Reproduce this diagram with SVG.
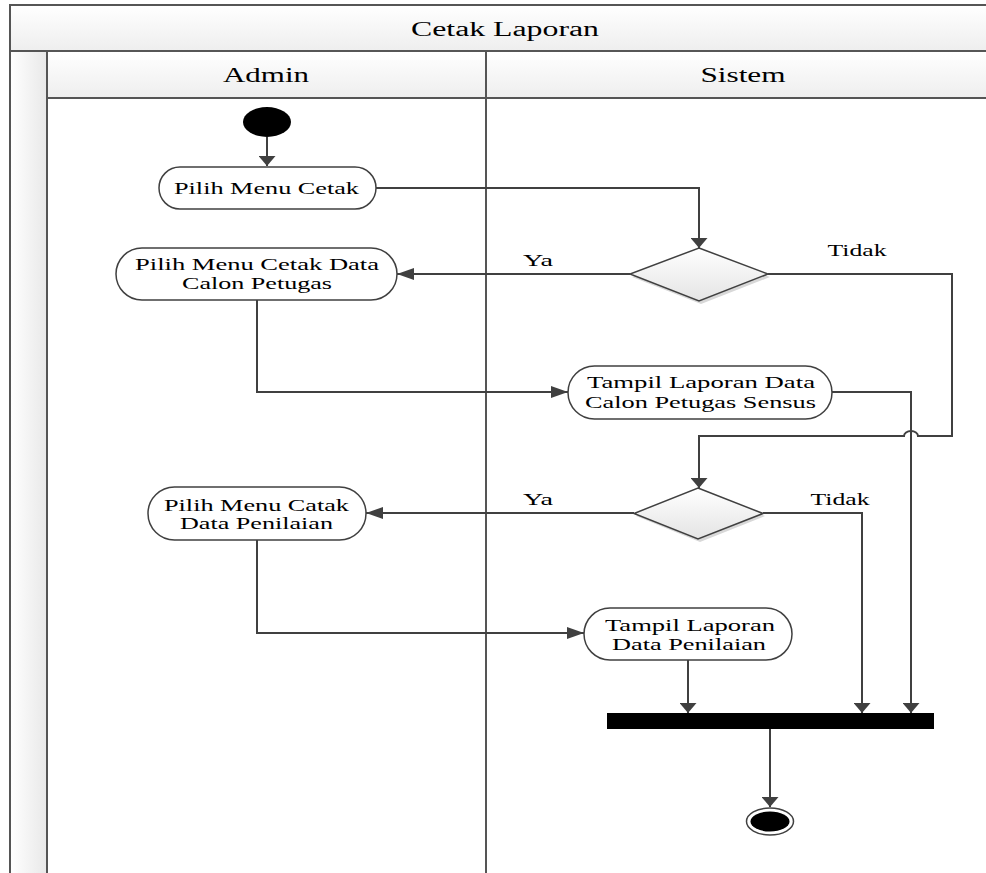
<svg xmlns="http://www.w3.org/2000/svg" width="986" height="873" viewBox="0 0 986 873">
  <defs>
    <linearGradient id="gradHead" x1="0" y1="0" x2="0" y2="1">
      <stop offset="0" stop-color="#ffffff"/>
      <stop offset="1" stop-color="#eeeeee"/>
    </linearGradient>
    <linearGradient id="gradStrip" x1="0" y1="0" x2="1" y2="0">
      <stop offset="0" stop-color="#ffffff"/>
      <stop offset="1" stop-color="#e8e8e8"/>
    </linearGradient>
    <linearGradient id="gradDiamond" x1="0" y1="0" x2="0" y2="1">
      <stop offset="0" stop-color="#ffffff"/>
      <stop offset="1" stop-color="#e4e4e4"/>
    </linearGradient>
    <marker id="arrowH" viewBox="0 0 17 12" refX="17" refY="6" markerWidth="17" markerHeight="12" markerUnits="userSpaceOnUse" orient="auto">
      <path d="M0,0 L17,6 L0,12 z" fill="#404040"/>
    </marker>
    <marker id="arrowV" viewBox="0 0 10 17" refX="10" refY="8.5" markerWidth="10" markerHeight="17" markerUnits="userSpaceOnUse" orient="auto">
      <path d="M0,0 L10,8.5 L0,17 z" fill="#404040"/>
    </marker>
  </defs>
  <style>
    .frame { stroke: #555555; stroke-width: 2; }
    .t { font-family: "Liberation Serif", "Times New Roman", serif; fill: #000000; text-anchor: middle; }
    .hd { font-size: 20px; }
    .nd { font-size: 17px; }
    .pill { fill: #ffffff; stroke: #404040; stroke-width: 1.5; }
    .dia { fill: url(#gradDiamond); stroke: #404040; stroke-width: 1.5; }
    .shadow { fill: #d8d8d8; }
    .conn path { fill: none; stroke: #404040; stroke-width: 2; }
    .h { marker-end: url(#arrowH); }
    .v { marker-end: url(#arrowV); }
  </style>

  <rect width="986" height="873" fill="#ffffff"/>

  <!-- swimlane frame -->
  <g id="pool">
    <rect x="10" y="5" width="990" height="46" fill="url(#gradHead)" class="frame"/>
    <rect x="10" y="51" width="37" height="840" fill="url(#gradStrip)" class="frame"/>
    <rect x="47" y="51" width="953" height="47" fill="url(#gradHead)" class="frame"/>
    <line x1="486" y1="51" x2="486" y2="880" class="frame"/>
    <line x1="47" y1="98" x2="47" y2="880" class="frame"/>
    <text class="t hd" x="505" y="36" textLength="188" lengthAdjust="spacingAndGlyphs">Cetak Laporan</text>
    <text class="t hd" x="266" y="82" textLength="86" lengthAdjust="spacingAndGlyphs">Admin</text>
    <text class="t hd" x="743" y="82" textLength="85" lengthAdjust="spacingAndGlyphs">Sistem</text>
  </g>

  <!-- connectors -->
  <g id="connectors" class="conn">
    <path class="v" d="M267,137 V166"/>
    <path class="v" d="M376,188 H699 V248"/>
    <path class="h" d="M630,274 H397"/>
    <path class="v" d="M768,274 H952 V436 H918 A7,5 0 0 0 904,436 H699 V488"/>
    <path class="h" d="M257,300 V392 H568"/>
    <path class="v" d="M832,392 H911 V713"/>
    <path class="h" d="M634,513 H366"/>
    <path class="v" d="M763,513 H862 V713"/>
    <path class="h" d="M257,540 V633 H584"/>
    <path class="v" d="M688,660 V713"/>
    <path class="v" d="M770,729 V807"/>
  </g>

  <!-- guard labels -->
  <g id="labels">
    <text class="t nd" x="538" y="266" textLength="30" lengthAdjust="spacingAndGlyphs">Ya</text>
    <text class="t nd" x="857" y="256" textLength="59" lengthAdjust="spacingAndGlyphs">Tidak</text>
    <text class="t nd" x="538" y="505" textLength="30" lengthAdjust="spacingAndGlyphs">Ya</text>
    <text class="t nd" x="840" y="505" textLength="59" lengthAdjust="spacingAndGlyphs">Tidak</text>
  </g>

  <g id="start">
    <ellipse cx="267" cy="122" rx="24" ry="15" fill="#000000"/>
  </g>

  <g id="pilih-menu-cetak">
    <rect class="pill" x="159" y="167" width="217" height="42" rx="21" ry="21"/>
    <text class="t nd" x="266.5" y="194" textLength="185" lengthAdjust="spacingAndGlyphs">Pilih Menu Cetak</text>
  </g>

  <g id="decision-1">
    <polygon class="shadow" points="701,251 770,277 701,304 632,277"/>
    <polygon class="dia" points="699,248 768,274 699,301 630,274"/>
  </g>

  <g id="pilih-calon-petugas">
    <rect class="pill" x="116" y="248" width="281" height="52" rx="26" ry="26"/>
    <text class="t nd" x="257" y="270" textLength="244" lengthAdjust="spacingAndGlyphs">Pilih Menu Cetak Data</text>
    <text class="t nd" x="257" y="289" textLength="150" lengthAdjust="spacingAndGlyphs">Calon Petugas</text>
  </g>

  <g id="tampil-calon-petugas">
    <rect class="pill" x="568" y="366" width="264" height="53" rx="26.5" ry="26.5"/>
    <text class="t nd" x="701" y="388" textLength="228" lengthAdjust="spacingAndGlyphs">Tampil Laporan Data</text>
    <text class="t nd" x="700.5" y="408" textLength="231" lengthAdjust="spacingAndGlyphs">Calon Petugas Sensus</text>
  </g>

  <g id="decision-2">
    <polygon class="shadow" points="700,491 765,516 700,542 636,516"/>
    <polygon class="dia" points="698,488 763,513.5 698,539 634,513.5"/>
  </g>

  <g id="pilih-penilaian">
    <rect class="pill" x="148" y="487" width="218" height="53" rx="26.5" ry="26.5"/>
    <text class="t nd" x="256.5" y="511" textLength="185" lengthAdjust="spacingAndGlyphs">Pilih Menu Catak</text>
    <text class="t nd" x="256.5" y="529" textLength="153" lengthAdjust="spacingAndGlyphs">Data Penilaian</text>
  </g>

  <g id="tampil-penilaian">
    <rect class="pill" x="584" y="608" width="208" height="52" rx="26" ry="26"/>
    <text class="t nd" x="690" y="631" textLength="170" lengthAdjust="spacingAndGlyphs">Tampil Laporan</text>
    <text class="t nd" x="689" y="650" textLength="154" lengthAdjust="spacingAndGlyphs">Data Penilaian</text>
  </g>

  <g id="join-bar">
    <rect x="607" y="713" width="327" height="16" fill="#000000"/>
  </g>

  <g id="end">
    <ellipse cx="770" cy="821.5" rx="23.5" ry="13.5" fill="#ffffff" stroke="#404040" stroke-width="1.5"/>
    <ellipse cx="770" cy="821.5" rx="19.5" ry="10" fill="#000000"/>
  </g>
</svg>
